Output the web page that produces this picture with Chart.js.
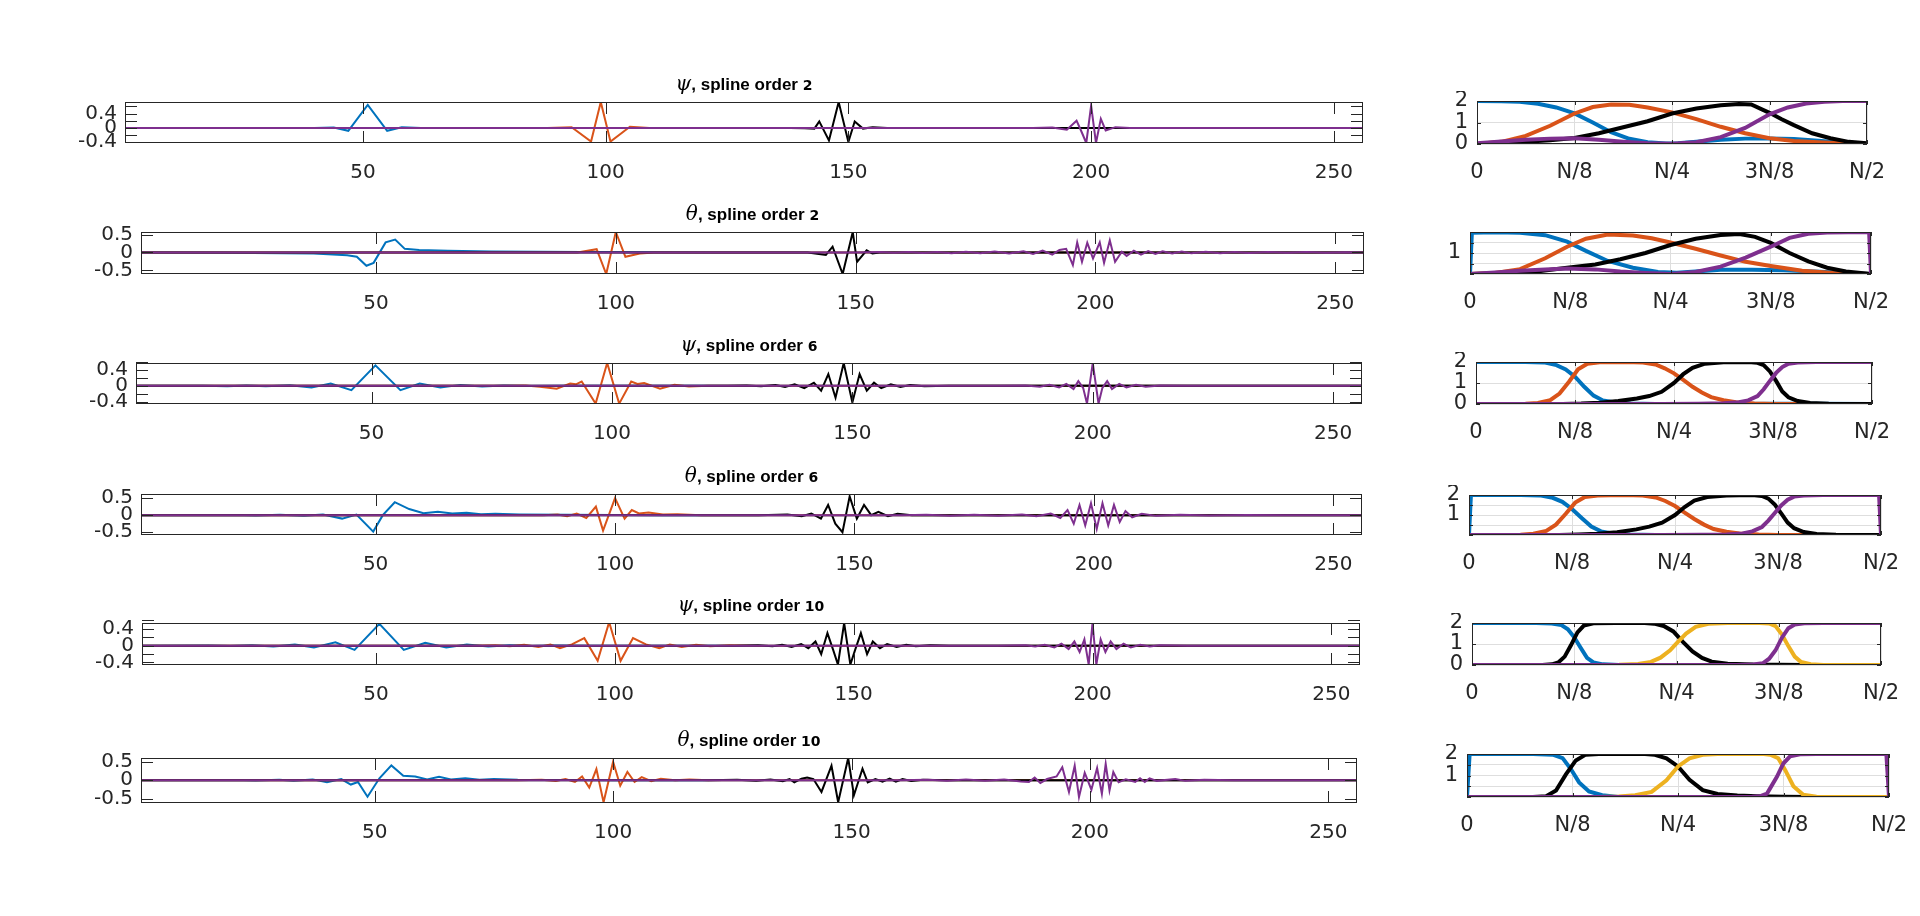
<!DOCTYPE html>
<html>
<head>
<meta charset="utf-8">
<script src="https://cdn.jsdelivr.net/npm/chart.js@4.4.1/dist/chart.umd.min.js"></script>
<style>
  html, body { margin: 0; padding: 0; background: #fff; width: 1920px; height: 916px; overflow: hidden; }
  canvas { position: absolute; }
</style>
</head>
<body>
<script>
// ---- left column: wavelets over samples 1..256 ----
const sampleTicks = [50, 100, 150, 200, 250];

const psi2Blue   = [[1,0],[40,0],[44,0.01],[47,-0.08],[51,0.64],[55,-0.08],[58,0.02],[62,0],[256,0]];
const psi2Orange = [[1,0],[88,0],[93,0.02],[97,-0.38],[99,0.72],[101,-0.38],[105,0.03],[109,0],[256,0]];
const psi2Black  = [[1,0],[138,0],[141,-0.01],[143,-0.02],[144,0.18],[146,-0.35],[148,0.72],[150,-0.39],[151.3,0.18],[153,-0.02],[155,0.02],[158,0],[256,0]];
const psi2Purple = [[1,0],[188,0],[192,0.01],[194,-0.03],[195,-0.05],[197,0.2],[198,-0.1],[199,-0.42],[200,0.62],[201,-0.42],[202,0.25],[203,-0.07],[205,0.02],[208,0],[256,0]];

const th2Blue   = [[1,0],[18,-0.01],[37,-0.03],[44,-0.08],[46,-0.12],[48,-0.37],[49.5,-0.29],[52,0.28],[54,0.36],[56,0.1],[59,0.07],[65,0.05],[74,0.03],[93,0.01],[120,0],[256,0]];
const th2Orange = [[1,0],[92,0],[96,0.09],[98,-0.6],[100,0.57],[102,-0.12],[105,-0.03],[108,0],[256,0]];
const th2Black  = [[1,0],[140,0],[143.8,-0.07],[145.2,0.16],[147.3,-0.6],[149.4,0.57],[150.3,-0.26],[152.3,0.06],[153.5,-0.03],[155,0],[256,0]];
const th2Purple = [[1,0],[150,0],[155,0.01],[158,-0.01],[161,0.015],[164,-0.015],[167,0.015],[170,-0.02],[173,0.02],[176,-0.02],[179,0.025],[182,-0.03],[185,0.035],[187,-0.04],[189,0.05],[191,-0.06],[192.5,0.07],[193.9,0.1],[195.3,-0.35],[196.2,0.28],[197.2,-0.26],[198.3,0.27],[199.5,-0.17],[200.9,0.28],[201.8,-0.29],[203,0.34],[204.1,-0.26],[205.5,0.02],[206.5,-0.1],[208,0.05],[209.5,-0.06],[211,0.04],[212.5,-0.04],[214,0.035],[216,-0.03],[218,0.025],[220,-0.025],[223,0.02],[226,-0.02],[229,0.015],[232,-0.015],[236,0.012],[240,-0.01],[244,0.01],[248,-0.008],[252,0.006],[256,0]];

const psi6Blue   = [[1,0],[15,0.005],[20,-0.008],[24,0.01],[28,-0.012],[33,0.016],[37.5,-0.04],[41.5,0.06],[45.8,-0.11],[50.8,0.52],[56,-0.11],[60,0.06],[64.3,-0.04],[68.5,0.025],[73,-0.015],[77.5,0.01],[82,-0.006],[90,0],[256,0]];
const psi6Orange = [[1,0],[78,0],[82,0.01],[85,-0.02],[88.5,-0.07],[91.3,0.06],[92.5,0.04],[93.7,0.11],[96.6,-0.45],[99,0.58],[101.5,-0.45],[104,0.11],[105.3,0.05],[106.7,0.07],[110,-0.07],[113,0.03],[116,-0.015],[120,0],[256,0]];
const psi6Black  = [[1,0],[124,0],[128,0.01],[131,-0.01],[134,0.02],[136,-0.03],[138,0.04],[140,-0.06],[142,0.08],[143.5,-0.12],[145,0.3],[146.5,-0.3],[148.2,0.58],[150,-0.42],[151.5,0.3],[153,-0.12],[154.5,0.08],[156,-0.06],[158,0.04],[160,-0.03],[162,0.02],[165,-0.01],[170,0],[256,0]];
const psi6Purple = [[1,0],[180,0],[186,0.01],[189,-0.02],[191,0.03],[193,-0.04],[194.5,0.05],[196,-0.08],[197,0.12],[198,-0.05],[198.8,-0.45],[200,0.58],[201.2,-0.45],[202,-0.05],[203,0.12],[204,-0.08],[205.5,0.05],[207,-0.04],[209,0.03],[211,-0.02],[214,0.01],[220,0],[256,0]];

const th6Blue   = [[1,0],[20,0.005],[25,-0.01],[30,0.01],[35,-0.02],[39,0.02],[43,-0.1],[46,0.02],[49.5,-0.48],[51.5,0],[54,0.38],[57,0.18],[60,0.06],[63,0.1],[66,0.05],[69,0.07],[72,0.03],[75,0.04],[80,0.02],[90,0.01],[110,0],[256,0]];
const th6Orange = [[1,0],[85,0],[88,0.02],[90,-0.03],[92,0.05],[94,-0.08],[96,0.25],[97.5,-0.45],[100,0.5],[102,-0.1],[103.5,0.15],[105,0.05],[107,0.08],[110,0.02],[113,0.03],[118,0],[256,0]];
const th6Black  = [[1,0],[130,0],[136,0.02],[139,-0.03],[141,0.05],[143,-0.1],[144.5,0.3],[146,-0.25],[147.5,-0.5],[149,0.55],[150.5,-0.1],[152,0.3],[153.5,0],[155,0.1],[157,-0.03],[159,0.04],[162,0],[256,0]];
const th6Purple = [[1,0],[160,0],[165,0.01],[170,-0.015],[175,0.015],[180,-0.02],[185,0.02],[188,-0.03],[191,0.05],[193,-0.08],[194.5,0.15],[195.8,-0.25],[197,0.3],[198.2,-0.3],[199.4,0.35],[200.6,-0.4],[201.8,0.35],[203,-0.3],[204.2,0.3],[205.4,-0.2],[206.6,0.12],[208,-0.06],[210,0.04],[213,-0.02],[218,0.015],[224,-0.01],[232,0.008],[240,0],[256,0]];

const psi10Blue   = [[1,0],[15,0.006],[19.5,-0.008],[24,0.012],[28.5,-0.018],[33,0.025],[37,-0.04],[41.5,0.08],[45.5,-0.1],[50.7,0.52],[55.8,-0.1],[60.3,0.07],[64.7,-0.045],[69,0.03],[73.5,-0.02],[78,0.013],[82.5,-0.008],[87,0.005],[95,0],[256,0]];
const psi10Orange = [[1,0],[70,0],[75,0.01],[78,-0.015],[81,0.02],[84,-0.03],[86.5,0.03],[88.5,-0.06],[91,0.03],[93.6,0.18],[96.4,-0.36],[98.8,0.56],[101.2,-0.36],[103.8,0.18],[106.5,0.03],[109.3,-0.06],[111.5,0.03],[114,-0.03],[117,0.02],[120,-0.015],[124,0.01],[130,0],[256,0]];
const psi10Black  = [[1,0],[125,0],[130,0.01],[133,-0.015],[135,0.02],[137,-0.03],[139,0.04],[140.5,-0.06],[142,0.1],[143.2,-0.2],[144.5,0.3],[145.7,-0.1],[146.7,-0.45],[148,0.54],[149.3,-0.45],[150.3,-0.1],[151.5,0.3],[152.8,-0.2],[154,0.1],[155.5,-0.06],[157,0.04],[159,-0.03],[161,0.02],[163,-0.015],[166,0.01],[170,0],[256,0]];
const psi10Purple = [[1,0],[180,0],[186,0.01],[188,-0.02],[190,0.02],[192,-0.04],[193.5,0.05],[195,-0.08],[196.2,0.1],[197.3,-0.15],[198.3,0.15],[199.2,-0.45],[200,0.54],[200.8,-0.45],[201.7,0.15],[202.7,-0.15],[203.8,0.1],[205,-0.08],[206.5,0.05],[208,-0.04],[210,0.02],[212,-0.02],[214,0.01],[220,0],[256,0]];

const th10Blue   = [[1,0],[20,0.005],[25,-0.008],[30,0.01],[33,-0.02],[37,0.02],[40,-0.06],[43,0.03],[45,-0.12],[46.5,-0.05],[48.5,-0.45],[51,0.05],[53.5,0.4],[56,0.12],[58.5,0.1],[61,0.02],[63.5,0.09],[66,0.02],[69,0.05],[72,0.01],[75,0.03],[80,0.01],[90,0.005],[100,0],[256,0]];
const th10Orange = [[1,0],[80,0],[85,0.01],[88,-0.02],[90,0.03],[92,-0.05],[93.5,0.1],[95,-0.2],[96.5,0.3],[98,-0.6],[100,0.5],[101.5,-0.15],[103,0.22],[104.5,-0.05],[106,0.08],[108,-0.03],[110,0.04],[113,0],[116,0.02],[120,0],[256,0]];
const th10Black  = [[1,0],[120,0],[126,0.01],[130,-0.02],[133,0.02],[135.6,-0.03],[137,0.03],[138,-0.06],[139.5,0.04],[140.7,0.07],[142,0.03],[143.7,-0.32],[145.8,0.39],[147.2,-0.6],[149.3,0.6],[150.5,-0.41],[152.3,0.31],[153.4,-0.06],[155,0.03],[156.5,-0.04],[158,0.04],[159.3,-0.04],[160.7,0.03],[162.5,-0.02],[165,0.01],[170,0],[256,0]];
const th10Purple = [[1,0],[160,0],[166,0.01],[170,-0.015],[174,0.02],[178,-0.02],[182,0.02],[185.5,-0.04],[187.2,-0.05],[188.4,0.07],[189.6,-0.08],[191,0.03],[193,0.1],[194.2,0.35],[195.6,-0.32],[196.8,0.39],[197.7,-0.46],[198.9,0.2],[200.3,-0.26],[201.5,0.33],[202.5,-0.37],[203.3,0.44],[204.1,-0.28],[204.9,0.22],[206,-0.06],[207.5,0.02],[209.5,-0.05],[210.5,0.05],[211.5,-0.05],[212.5,0.05],[214,-0.02],[217.9,0.03],[220,-0.02],[224,0.01],[230,0],[256,0]];

// ---- right column: frequency responses over 0..N/2 ----
const freqTicks  = [0, 32, 64, 96, 128];
const freqLabels = ['0', 'N/8', 'N/4', '3N/8', 'N/2'];

const rpsi2Blue   = [[0,2],[8,1.99],[14,1.96],[20,1.87],[26,1.7],[32,1.42],[38,1.0],[44,0.55],[50,0.24],[56,0.08],[62,0.02],[66,0.03],[72,0.1],[80,0.2],[88,0.25],[96,0.26],[104,0.23],[112,0.15],[118,0.08],[124,0.02],[128,0]];
const rpsi2Orange = [[0,0],[8,0.1],[16,0.38],[24,0.85],[32,1.42],[38,1.72],[44,1.84],[50,1.83],[56,1.7],[64,1.47],[72,1.16],[80,0.8],[88,0.5],[96,0.27],[104,0.14],[112,0.08],[120,0.03],[128,0]];
const rpsi2Black  = [[0,0],[8,0.02],[16,0.1],[24,0.18],[32,0.28],[40,0.5],[48,0.78],[56,1.06],[64,1.42],[72,1.65],[80,1.8],[86,1.86],[90,1.84],[96,1.45],[100,1.15],[104,0.88],[110,0.5],[116,0.27],[122,0.1],[128,0.03]];
const rpsi2Purple = [[0,0.03],[8,0.12],[16,0.2],[24,0.25],[32,0.27],[40,0.2],[48,0.11],[56,0.04],[64,0.01],[72,0.08],[80,0.32],[88,0.75],[96,1.38],[102,1.7],[108,1.88],[114,1.96],[120,2.0],[128,2.0]];

const rth2Blue   = [[0,0],[0.6,1.97],[8,1.99],[16,1.96],[24,1.85],[31,1.54],[37,1.1],[44,0.62],[52,0.3],[60,0.1],[66,0.06],[72,0.12],[80,0.2],[90,0.2],[100,0.18],[110,0.12],[120,0.05],[128,0]];
const rth2Orange = [[0,0],[8,0.05],[16,0.23],[24,0.75],[31,1.3],[37,1.68],[44,1.88],[52,1.83],[58,1.7],[64,1.5],[72,1.2],[80,0.88],[88,0.58],[96,0.38],[106,0.15],[116,0.05],[128,0]];
const rth2Black  = [[0,0],[10,0.02],[20,0.1],[31,0.3],[40,0.45],[48,0.7],[56,1.0],[64,1.38],[72,1.68],[80,1.86],[86,1.9],[91,1.77],[96,1.48],[102,1.0],[108,0.6],[114,0.3],[120,0.12],[128,0]];
const rth2Purple = [[0,0],[8,0.07],[16,0.15],[24,0.22],[31,0.26],[40,0.22],[48,0.12],[56,0.05],[64,0],[72,0.1],[80,0.35],[88,0.78],[96,1.3],[102,1.72],[108,1.92],[114,1.98],[127.4,2],[128,0]];

const rpsi6Blue   = [[0,2],[16,2],[22,1.98],[26,1.85],[29,1.65],[32,1.3],[35,0.82],[38,0.4],[41,0.17],[45,0.07],[50,0.02],[58,0],[80,0],[96,0.01],[110,0.01],[128,0]];
const rpsi6Orange = [[0,0],[16,0.01],[20,0.05],[24,0.18],[27,0.5],[30,1.05],[33,1.65],[36,1.92],[40,1.99],[48,2.0],[54,1.98],[58,1.88],[61,1.7],[64,1.46],[67,1.15],[70,0.82],[73,0.55],[76,0.33],[80,0.18],[84,0.08],[90,0.02],[96,0],[128,0]];
const rpsi6Black  = [[0,0],[28,0],[34,0.02],[40,0.06],[46,0.14],[52,0.26],[56,0.38],[60,0.58],[64,1.0],[67,1.42],[70,1.72],[74,1.92],[80,1.99],[88,2.0],[91,1.96],[93,1.85],[95,1.55],[97,1.1],[99,0.6],[101,0.32],[104,0.14],[108,0.05],[114,0.01],[128,0]];
const rpsi6Purple = [[0,0],[60,0],[72,0.01],[80,0.03],[85,0.08],[88,0.17],[91,0.38],[93,0.7],[95,1.1],[97,1.48],[99,1.76],[101,1.92],[104,1.98],[110,2.0],[128,2.0]];

const rth6Blue   = [[0,0],[0.6,2],[16,2],[22,1.98],[26,1.86],[29,1.66],[32,1.3],[35,0.85],[38,0.42],[41,0.18],[45,0.07],[50,0.02],[58,0],[128,0]];
const rth6Orange = [[0,0],[16,0.01],[20,0.06],[24,0.2],[27,0.52],[30,1.05],[33,1.62],[36,1.9],[40,1.98],[48,2],[54,1.98],[58,1.88],[61,1.7],[64,1.45],[67,1.12],[70,0.8],[73,0.52],[76,0.3],[80,0.16],[84,0.07],[90,0.02],[96,0],[128,0]];
const rth6Black  = [[0,0],[28,0],[34,0.02],[40,0.06],[46,0.14],[52,0.28],[56,0.42],[60,0.62],[64,1.0],[67,1.4],[70,1.72],[74,1.9],[80,1.98],[88,2],[91,1.95],[93,1.82],[95,1.52],[97,1.08],[99,0.62],[101,0.34],[104,0.15],[108,0.05],[114,0.01],[128,0]];
const rth6Purple = [[0,0],[60,0],[72,0.01],[80,0.03],[85,0.08],[88,0.18],[91,0.4],[93,0.72],[95,1.1],[97,1.48],[99,1.76],[101,1.92],[104,1.98],[110,2],[127.4,2],[128,0]];

const rpsi10Blue   = [[0,2],[20,2],[25,1.98],[28,1.9],[30,1.7],[32,1.32],[34,0.82],[36,0.34],[38,0.12],[41,0.03],[46,0],[128,0]];
const rpsi10Black  = [[0,0],[22,0],[25,0.03],[27,0.12],[29,0.4],[31,0.95],[33,1.55],[35,1.88],[38,1.99],[45,2.0],[54,2.0],[57,1.97],[60,1.86],[63,1.6],[66,1.1],[69,0.65],[72,0.34],[75,0.16],[80,0.06],[88,0.02],[96,0.01],[104,0],[128,0]];
const rpsi10Yellow = [[0,0],[40,0],[46,0.01],[52,0.05],[56,0.15],[59,0.35],[62,0.7],[64,1.03],[67,1.5],[70,1.82],[74,1.96],[80,2.0],[90,2.0],[93,1.98],[95,1.85],[97,1.45],[99,0.9],[101,0.4],[103,0.14],[106,0.04],[110,0],[128,0]];
const rpsi10Purple = [[0,0],[84,0],[88,0.02],[91,0.08],[93,0.3],[95,0.7],[97,1.3],[99,1.75],[101,1.93],[104,1.99],[110,2.0],[128,2.0]];

const rth10Blue   = [[0,0],[0.8,2],[20,2],[26,1.97],[29,1.81],[31.5,1.3],[34,0.68],[37,0.26],[41,0.08],[46,0],[128,0]];
const rth10Black  = [[0,0],[20,0],[24,0.04],[27,0.3],[30,1.05],[33,1.7],[36,1.97],[40,2],[54,2],[57,1.96],[60.5,1.8],[64,1.42],[67.5,0.8],[71.5,0.32],[76,0.14],[82,0.07],[88,0.04],[96,0.01],[104,0],[128,0]];
const rth10Yellow = [[0,0],[40,0],[46,0.02],[51,0.08],[56,0.24],[60.5,0.78],[64,1.42],[67.5,1.8],[71.5,1.96],[76,2],[90,2],[92,1.97],[94.4,1.8],[96.5,1.26],[99,0.5],[102,0.1],[106,0.01],[110,0],[128,0]];
const rth10Purple = [[0,0],[86,0],[89,0.04],[91,0.16],[94,0.94],[96,1.57],[98,1.89],[101,1.99],[106,2],[127.2,2],[128,0]];

// MATLAB default colours
const BLUE = '#0072BD', ORANGE = '#D95319', YELLOW = '#EDB120', PURPLE = '#7E2F8E', BLACK = '#000000';
const INK = '#262626';
const TICK_FONT = '"DejaVu Sans"';

// draws the box, inward tick marks and the mixed-font title
const framePlugin = {
  id: 'frame',
  afterDatasetsDraw(chart, args, opts) {
    const { ctx, chartArea: a, scales: { x, y } } = chart;
    ctx.save();
    ctx.strokeStyle = INK;
    ctx.lineWidth = 1;
    ctx.beginPath();
    (opts.xTicks || []).forEach(v => {
      const px = Math.round(x.getPixelForValue(v)) + 0.5;
      ctx.moveTo(px, a.bottom); ctx.lineTo(px, a.bottom - opts.len);
      ctx.moveTo(px, a.top); ctx.lineTo(px, a.top + opts.len);
    });
    (opts.yTicks || []).forEach(v => {
      const py = Math.round(y.getPixelForValue(v)) + 0.5;
      ctx.moveTo(a.left, py); ctx.lineTo(a.left + opts.len, py);
      ctx.moveTo(a.right, py); ctx.lineTo(a.right - opts.len, py);
    });
    ctx.stroke();
    ctx.strokeRect(Math.round(a.left) + 0.5, Math.round(a.top) + 0.5, Math.round(a.width) - 1, Math.round(a.height) - 1);

    if (opts.title) {
      let total = 0;
      opts.title.forEach(p => { ctx.font = p.font; p.w = ctx.measureText(p.text).width; total += p.w; });
      let cx = (a.left + a.right) / 2 - total / 2;
      ctx.fillStyle = '#000';
      ctx.textBaseline = 'alphabetic';
      ctx.textAlign = 'left';
      opts.title.forEach(p => { ctx.font = p.font; ctx.fillText(p.text, cx, a.top - 12); cx += p.w; });
    }
    ctx.restore();
  }
};
Chart.register(framePlugin);

function titleParts(sym, order) {
  return [
    { text: sym, font: 'italic 20px "DejaVu Serif"' },
    { text: ', spline order ', font: 'bold 17px "Liberation Sans"' },
    { text: order, font: 'bold 14px "DejaVu Sans"' }
  ];
}

function makePanel(spec) {
  const [l, t, r, b] = spec.box;
  const padTop = spec.padTop, padRight = spec.padRight, yW = spec.yW, xH = spec.xH;
  const left = spec.canvasLeft;
  const cw = r - left + padRight, ch = (b - t) + padTop + xH;
  const cv = document.createElement('canvas');
  cv.width = cw; cv.height = ch;
  cv.style.left = left + 'px'; cv.style.top = (t - padTop) + 'px';
  cv.style.width = cw + 'px'; cv.style.height = ch + 'px';
  document.body.appendChild(cv);

  const n = spec.series.length;
  new Chart(cv, {
    type: 'line',
    data: {
      datasets: spec.series.map((s, i) => ({
        data: s.map(p => ({ x: p[0], y: p[1] })),
        borderColor: spec.colors[i],
        borderWidth: spec.lineWidth,
        pointRadius: 0,
        tension: 0,
        fill: false,
        order: n - i
      }))
    },
    options: {
      responsive: false,
      animation: false,
      devicePixelRatio: 1,
      layout: { padding: { left: (l - left) - yW, top: padTop, right: padRight, bottom: 0 } },
      plugins: {
        legend: { display: false },
        tooltip: { enabled: false },
        frame: { xTicks: spec.xTicks, yTicks: spec.yTicks, len: spec.tickLen, title: spec.title }
      },
      scales: {
        x: {
          type: 'linear', min: spec.xRange[0], max: spec.xRange[1],
          afterBuildTicks: s => { s.ticks = spec.xTicks.map(v => ({ value: v })); },
          afterFit: s => { s.height = xH; s.paddingLeft = 0; s.paddingRight = 0; },
          grid: { display: spec.grid, drawTicks: false, color: '#dedede', lineWidth: 1 },
          border: { display: false },
          ticks: {
            padding: spec.xPad, color: INK, autoSkip: false, maxRotation: 0,
            font: { family: TICK_FONT, size: spec.fontSize },
            callback: spec.xLabel
          }
        },
        y: {
          type: 'linear', min: spec.yRange[0], max: spec.yRange[1],
          afterBuildTicks: s => { s.ticks = spec.yTicks.map(v => ({ value: v })); },
          afterFit: s => { s.width = yW; s.paddingTop = 0; s.paddingBottom = 0; },
          grid: { display: spec.grid, drawTicks: false, color: '#dedede', lineWidth: 1 },
          border: { display: false },
          ticks: {
            padding: spec.yPad, color: INK, autoSkip: false,
            font: { family: TICK_FONT, size: spec.fontSize },
            callback: v => spec.yLabels.some(k => Math.abs(k - v) < 1e-9) ? (Math.abs(v) < 1e-9 ? '0' : String(v)) : ''
          }
        }
      }
    }
  });
}

const leftBase = {
  canvasLeft: 0, padTop: 40, padRight: 10, yW: 70, xH: 48, tickLen: 12, lineWidth: 2,
  grid: false, fontSize: 20, xPad: 18, yPad: 8, xRange: [1, 256], xTicks: sampleTicks,
  xLabel: v => String(v)
};
const psiTicks = [-0.4, -0.2, 0, 0.2, 0.4, 0.6];
const thTicks = [-0.5, 0, 0.5];

const leftPanels = [
  { title: titleParts('ψ', '2'),  box: [125, 102, 1363, 143], yRange: [-0.42, 0.72], yTicks: psiTicks, yLabels: [-0.4, 0, 0.4], series: [psi2Blue, psi2Orange, psi2Black, psi2Purple] },
  { title: titleParts('θ', '2'),  box: [141, 232, 1364, 274], yRange: [-0.6, 0.57],  yTicks: thTicks,  yLabels: [-0.5, 0, 0.5], series: [th2Blue, th2Orange, th2Black, th2Purple] },
  { title: titleParts('ψ', '6'),  box: [136, 363, 1362, 404], yRange: [-0.46, 0.58], yTicks: psiTicks, yLabels: [-0.4, 0, 0.4], series: [psi6Blue, psi6Orange, psi6Black, psi6Purple] },
  { title: titleParts('θ', '6'),  box: [141, 494, 1362, 535], yRange: [-0.58, 0.62], yTicks: thTicks,  yLabels: [-0.5, 0, 0.5], series: [th6Blue, th6Orange, th6Black, th6Purple] },
  { title: titleParts('ψ', '10'), box: [142, 623, 1360, 665], yRange: [-0.46, 0.54], yTicks: psiTicks, yLabels: [-0.4, 0, 0.4], series: [psi10Blue, psi10Orange, psi10Black, psi10Purple] },
  { title: titleParts('θ', '10'), box: [141, 758, 1357, 803], yRange: [-0.62, 0.6],  yTicks: thTicks,  yLabels: [-0.5, 0, 0.5], series: [th10Blue, th10Orange, th10Black, th10Purple] }
];
leftPanels.forEach(p => makePanel(Object.assign({}, leftBase, p, { colors: [BLUE, ORANGE, BLACK, PURPLE] })));

const rightBase = {
  padTop: 10, padRight: 30, yW: 40, xH: 50, tickLen: 4, lineWidth: 4,
  grid: true, fontSize: 21, xPad: 16, yPad: 9, xRange: [0, 128], xTicks: freqTicks,
  xLabel: (v, i) => freqLabels[i]
};
const psiR = [0, 1, 2];
const thR = [0, 0.5, 1, 1.5, 2];

const rightPanels = [
  { box: [1477, 101, 1867, 144], yTicks: psiR, yLabels: [0, 1, 2], series: [rpsi2Blue, rpsi2Orange, rpsi2Black, rpsi2Purple], colors: [BLUE, ORANGE, BLACK, PURPLE] },
  { box: [1470, 232, 1871, 274], yTicks: thR,  yLabels: [1],       series: [rth2Blue, rth2Orange, rth2Black, rth2Purple],     colors: [BLUE, ORANGE, BLACK, PURPLE] },
  { box: [1476, 362, 1872, 404], yTicks: psiR, yLabels: [0, 1, 2], series: [rpsi6Blue, rpsi6Orange, rpsi6Black, rpsi6Purple], colors: [BLUE, ORANGE, BLACK, PURPLE] },
  { box: [1469, 495, 1881, 535], yTicks: thR,  yLabels: [1, 2],    series: [rth6Blue, rth6Orange, rth6Black, rth6Purple],     colors: [BLUE, ORANGE, BLACK, PURPLE] },
  { box: [1472, 623, 1881, 665], yTicks: psiR, yLabels: [0, 1, 2], series: [rpsi10Blue, rpsi10Black, rpsi10Yellow, rpsi10Purple], colors: [BLUE, BLACK, YELLOW, PURPLE] },
  { box: [1467, 754, 1889, 797], yTicks: thR,  yLabels: [1, 2],    series: [rth10Blue, rth10Black, rth10Yellow, rth10Purple],     colors: [BLUE, BLACK, YELLOW, PURPLE] }
];
rightPanels.forEach(p => makePanel(Object.assign({}, rightBase, p, { canvasLeft: p.box[0] - 50, yRange: [0, 2] })));
</script>
</body>
</html>
